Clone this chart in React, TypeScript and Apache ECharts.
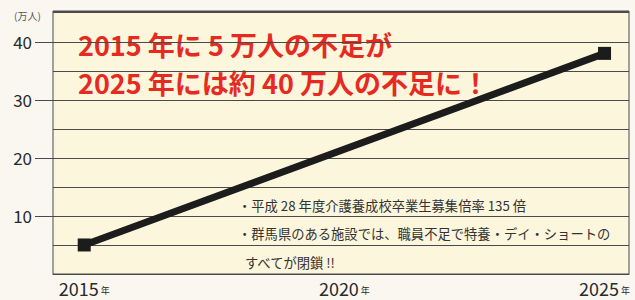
import React, { useEffect, useRef } from "react";
import * as echarts from "echarts";

const years = [2015, 2025];
const shortage = [5, 38];
const xLabels = [2015, 2020, 2025];
const yLabels = [10, 20, 30, 40];
const unitLabel = "(万人)";
const headline = ["2015 年に 5 万人の不足が", "2025 年には約 40 万人の不足に！"];
const notes = [
  "・平成 28 年度介護養成校卒業生募集倍率 135 倍",
  "・群馬県のある施設では、職員不足で特養・デイ・ショートの",
  "すべてが閉鎖 !!",
];

const FONT = "'Noto Sans CJK JP', 'Noto Sans', sans-serif";
const Y_MAX = 45.3;

export default function App() {
  const ref = useRef<HTMLDivElement>(null);
  useEffect(() => {
    if (!ref.current) return;
    const chart = echarts.init(ref.current, undefined, { renderer: "svg" });
    const data = years.map((y, i) => [y, shortage[i]]);
    chart.setOption({
      animation: false,
      backgroundColor: "#f9f7f0",
      textStyle: { fontFamily: FONT },
      grid: {
        left: 53,
        right: 6,
        top: 11,
        bottom: 26,
        show: true,
        backgroundColor: "#fbf6dc",
        borderColor: "#4a4a4a",
        borderWidth: 1,
      },
      xAxis: {
        type: "value",
        min: 2014.4,
        max: 2025.47,
        axisLine: { show: true, lineStyle: { color: "#4a4a4a", width: 1 } },
        axisTick: { show: false },
        splitLine: { show: false },
        axisLabel: {
          customValues: xLabels,
          margin: 5,
          formatter: (v: number) => `{n|${v}}{u|年}`,
          rich: {
            n: { fontSize: 18, color: "#2a2a2a", fontFamily: FONT },
            u: { fontSize: 9, color: "#2a2a2a", fontFamily: FONT, padding: [6, 0, 0, 2] },
          },
        },
      },
      yAxis: [
        {
          type: "value",
          min: 0,
          max: Y_MAX,
          interval: 5,
          axisLine: { show: false },
          axisTick: { show: false },
          axisLabel: { show: false },
          splitLine: { show: true, lineStyle: { color: "#4a4a4a", width: 1 } },
        },
        {
          type: "value",
          position: "left",
          offset: 0,
          min: 0,
          max: Y_MAX,
          axisLine: { show: false },
          splitLine: { show: false },
          axisTick: {
            show: true,
            customValues: yLabels,
            length: 18,
            lineStyle: { color: "#4a4a4a", width: 1 },
          },
          axisLabel: {
            customValues: yLabels,
            margin: 21,
            fontSize: 17,
            color: "#2a2a2a",
            fontFamily: FONT,
          },
        },
      ],
      graphic: [
        {
          type: "text",
          left: 14,
          top: 10,
          style: { text: unitLabel, fontSize: 10, fill: "#555", fontFamily: FONT },
        },
        ...headline.map((t, i) => ({
          type: "text",
          x: 78,
          y: 44 + i * 38,
          style: {
            text: t,
            fontSize: 27,
            fontWeight: "bold",
            fill: "#e62a22",
            fontFamily: FONT,
            verticalAlign: "middle",
          },
        })),
        ...notes.map((t, i) => ({
          type: "text",
          x: i === 2 ? 245 : 238,
          y: 205 + i * 28.5,
          style: {
            text: t,
            fontSize: 13.3,
            fill: "#333",
            fontFamily: FONT,
            verticalAlign: "middle",
          },
        })),
      ],
      series: [
        {
          type: "line",
          data,
          yAxisIndex: 0,
          symbol: "rect",
          symbolSize: 13,
          lineStyle: { color: "#1c1c1c", width: 7 },
          itemStyle: { color: "#1c1c1c" },
          z: 3,
        },
      ],
    });
    return () => chart.dispose();
  }, []);
  return (
    <div
      ref={ref}
      style={{ position: "fixed", left: 0, top: 0, width: 635, height: 300 }}
    />
  );
}
